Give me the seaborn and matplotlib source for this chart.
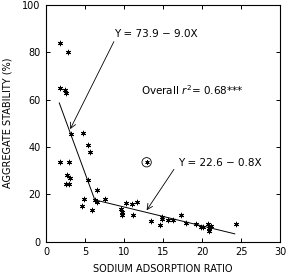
import matplotlib
matplotlib.use("Agg")
import matplotlib.pyplot as plt
import seaborn as sns
import numpy as np
import pandas as pd

# Data points (sodium adsorption ratio, aggregate stability %)
sar = [1.8, 2.8, 1.8, 2.4, 2.6, 3.2, 4.7, 5.4, 5.6, 1.8, 2.95,
       2.65, 3.1, 2.5, 2.9, 5.4, 6.6, 4.9, 4.6, 5.85, 6.3, 6.55, 7.6,
       9.65, 9.8, 9.7, 10.3, 11.0, 11.7, 11.1,
       13.4, 14.6, 14.9, 14.9, 15.6, 16.3, 17.3, 17.9, 19.2, 19.9, 20.1,
       20.8, 20.9, 20.9, 21.2, 24.3]
stability = [84, 80, 65, 64, 63, 45.6, 46, 41, 38, 33.5, 33.5,
             28, 26.8, 24.5, 24.2, 26, 21.6, 18, 14.8, 13.2, 17.5, 16.8, 17.8,
             13.9, 12.6, 11.3, 16.1, 16.0, 16.6, 11.3,
             8.7, 7.0, 10.5, 9.4, 9.3, 9.3, 11.4, 7.7, 7.6, 6.3, 6.3,
             7.4, 5.8, 4.5, 6.6, 7.2]
outlier_sar = [12.9]
outlier_stab = [33.5]

# Fitted segments
seg1_x = [1.7, 6.26]
seg2_x = [6.26, 24.2]
b1, m1 = 73.9, -9.0
b2, m2 = 22.6, -0.8

df = pd.DataFrame({"SAR": sar, "AS": stability})

fig = plt.figure(figsize=(2.86, 2.76), dpi=100)
ax = fig.add_axes([46/286, 1-241.5/276, (280-46)/286, (241.5-5)/276])

sns.scatterplot(data=df, x="SAR", y="AS", ax=ax, marker=(6, 2, 0), s=11,
                color="black", edgecolor="black", linewidth=0.7, legend=False)
sns.scatterplot(x=outlier_sar, y=outlier_stab, ax=ax, marker=(6, 2, 0), s=7,
                color="black", edgecolor="black", linewidth=0.6, legend=False)
ax.scatter(outlier_sar, outlier_stab, s=45, facecolors="none",
           edgecolors="black", linewidths=0.6)

l1 = pd.DataFrame({"x": seg1_x, "y": [b1 + m1 * v for v in seg1_x]})
l2 = pd.DataFrame({"x": seg2_x, "y": [b2 + m2 * v for v in seg2_x]})
sns.lineplot(data=l1, x="x", y="y", ax=ax, color="black", linewidth=0.7)
sns.lineplot(data=l2, x="x", y="y", ax=ax, color="black", linewidth=0.7)

fs = 7.0
afs = 7.5
arrow = dict(arrowstyle="->", color="black", lw=0.6, shrinkA=0, shrinkB=0)
ax.text(14.1, 87.8, "Y = 73.9 \u2212 9.0X", ha="center", va="center", fontsize=afs)
ax.annotate("", xy=(3.1, 47.5), xytext=(8.7, 84.5), arrowprops=arrow)
ax.text(18.7, 64, "Overall $r^2$= 0.68***", ha="center", va="center", fontsize=afs)
ax.annotate("", xy=(12.9, 13.2), xytext=(16.4, 30.5), arrowprops=arrow)
ax.text(22.3, 33, "Y = 22.6 \u2212 0.8X", ha="center", va="center", fontsize=afs)

ax.set_xlim(0, 30)
ax.set_ylim(0, 100)
ax.set_xticks([0, 5, 10, 15, 20, 25, 30])
ax.set_yticks([0, 20, 40, 60, 80, 100])
ax.tick_params(direction="in", length=3, width=0.7, top=True, right=True,
               labelsize=fs, colors="black", pad=4)
for s in ax.spines.values():
    s.set_linewidth(0.8)
    s.set_color("black")
ax.set_xlabel("SODIUM ADSORPTION RATIO", fontsize=fs, labelpad=5)
ax.set_ylabel("AGGREGATE STABILITY (%)", fontsize=fs, labelpad=7)

fig.savefig("out.png", dpi=100)
